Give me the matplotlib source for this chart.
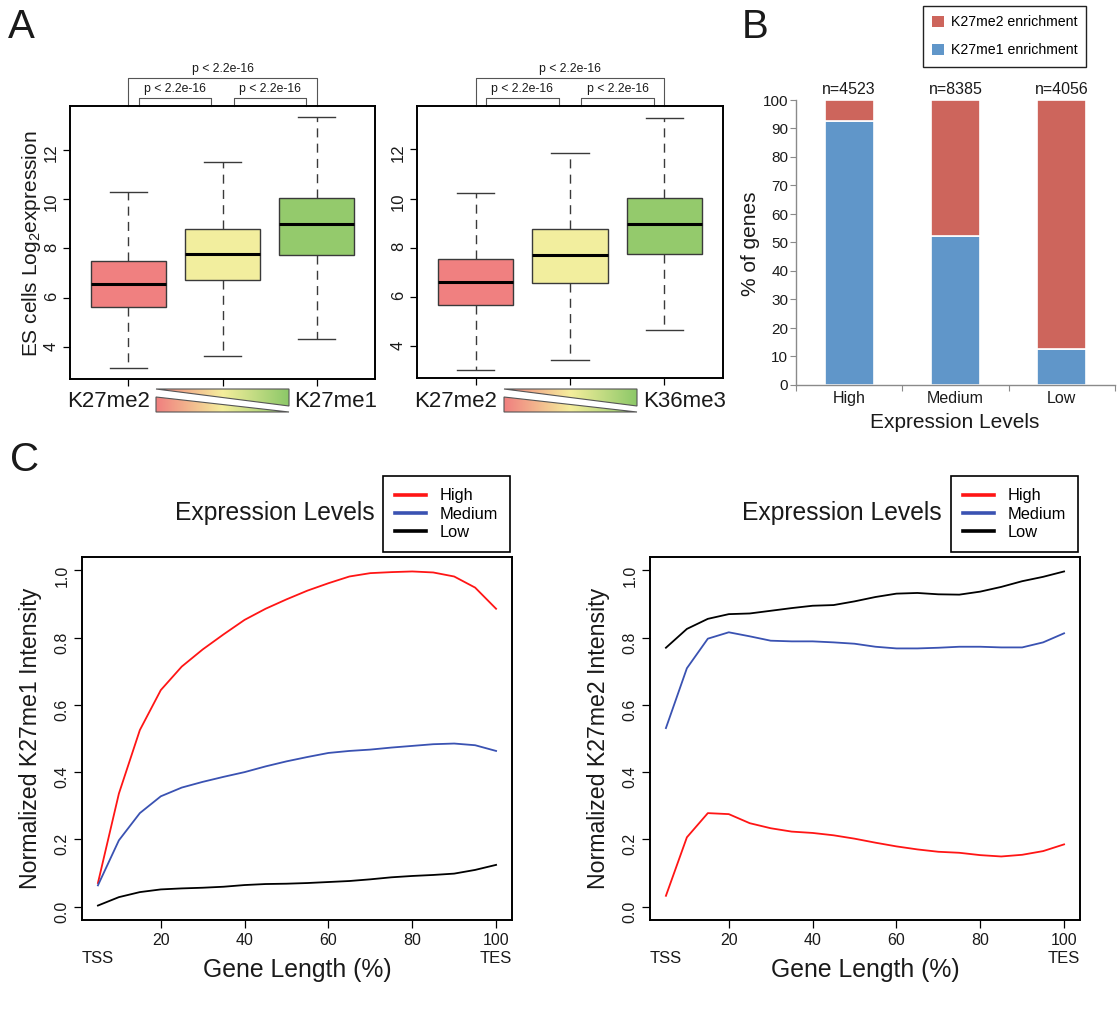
import numpy as np
import matplotlib
matplotlib.use('Agg')
import matplotlib.pyplot as plt
from matplotlib.patches import Polygon, Patch
from matplotlib.lines import Line2D
from matplotlib.colors import LinearSegmentedColormap
import matplotlib.transforms as mtransforms

plt.rcParams['font.family'] = ['Liberation Sans', 'DejaVu Sans']
plt.rcParams['mathtext.fontset'] = 'custom'
plt.rcParams['mathtext.rm'] = 'Liberation Sans'
plt.rcParams['mathtext.it'] = 'Liberation Sans:italic'

W, H = 1120, 1021

# ---------------- data ----------------
# Panel A (left): K27me2 -> K27me1
a1_q1 = [5.65, 6.73, 7.73]
a1_med = [6.55, 7.77, 8.98]
a1_q3 = [7.50, 8.78, 10.03]
a1_lo = [3.15, 3.63, 4.32]
a1_hi = [10.27, 11.48, 13.33]
a1_labels = ['K27me2', 'K27me1']

# Panel A (right): K27me2 -> K36me3
a2_q1 = [5.67, 6.58, 7.76]
a2_med = [6.60, 7.72, 8.96]
a2_q3 = [7.53, 8.78, 10.02]
a2_lo = [3.04, 3.44, 4.68]
a2_hi = [10.24, 11.85, 13.27]
a2_labels = ['K27me2', 'K36me3']

box_colors = ['#F08080', '#F2EE9E', '#94CA6C']
pval = 'p < 2.2e-16'
a_yticks = [4, 6, 8, 10, 12]

# Panel B
levels = ['High', 'Medium', 'Low']
n_genes = [4523, 8385, 4056]
pct_me1 = [92.5, 52.2, 12.6]
pct_me2 = [7.5, 47.8, 87.4]
b_yticks = [0, 10, 20, 30, 40, 50, 60, 70, 80, 90, 100]

# Panel C
gene_len = [5, 10, 15, 20, 25, 30, 35, 40, 45, 50, 55, 60, 65, 70, 75, 80, 85, 90, 95, 100]
me1_high = [0.070, 0.336, 0.525, 0.644, 0.714, 0.765, 0.810, 0.853, 0.886, 0.914,
            0.940, 0.962, 0.982, 0.992, 0.995, 0.997, 0.994, 0.982, 0.949, 0.886]
me1_med = [0.063, 0.197, 0.278, 0.328, 0.354, 0.371, 0.386, 0.400, 0.417, 0.432,
           0.445, 0.457, 0.463, 0.467, 0.473, 0.478, 0.483, 0.485, 0.480, 0.463]
me1_low = [0.003, 0.028, 0.043, 0.051, 0.054, 0.056, 0.059, 0.064, 0.067, 0.068,
           0.070, 0.073, 0.076, 0.081, 0.087, 0.091, 0.094, 0.098, 0.109, 0.124]
me2_high = [0.032, 0.206, 0.278, 0.275, 0.248, 0.233, 0.223, 0.219, 0.212, 0.202,
            0.190, 0.179, 0.170, 0.163, 0.160, 0.153, 0.149, 0.154, 0.165, 0.185]
me2_med = [0.531, 0.709, 0.797, 0.816, 0.804, 0.791, 0.789, 0.789, 0.786, 0.782,
           0.773, 0.768, 0.768, 0.770, 0.773, 0.773, 0.771, 0.771, 0.786, 0.813]
me2_low = [0.770, 0.826, 0.856, 0.870, 0.872, 0.880, 0.888, 0.895, 0.897, 0.908,
           0.921, 0.931, 0.933, 0.929, 0.928, 0.937, 0.951, 0.968, 0.981, 0.997]
c_xticks = [20, 40, 60, 80, 100]
c_yticks = [0.0, 0.2, 0.4, 0.6, 0.8, 1.0]
line_colors = ['#FF1515', '#3A52B2', '#000000']

# ---------------- figure ----------------
fig = plt.figure(figsize=(W / 100, H / 100), dpi=100)


def px_axes(x0, y0, x1, y1, **kw):
    return fig.add_axes([x0 / W, 1 - y1 / H, (x1 - x0) / W, (y1 - y0) / H], **kw)


def ftext(x, y, s, **kw):
    kw.setdefault('ha', 'center')
    kw.setdefault('va', 'center')
    fig.text(x / W, 1 - y / H, s, **kw)


TXT = '#1a1a1a'


def box_panel(ax, q1, med, q3, lo, hi):
    stats = [dict(q1=a, med=b, q3=c, whislo=d, whishi=e, fliers=[])
             for a, b, c, d, e in zip(q1, med, q3, lo, hi)]
    ec = '#3a3a3a'
    bp = ax.bxp(stats, positions=[1, 2, 3], widths=0.8, capwidths=0.4,
                patch_artist=True, showfliers=False,
                boxprops=dict(edgecolor=ec, linewidth=1.0),
                medianprops=dict(color='black', linewidth=2.2, solid_capstyle='butt'),
                whiskerprops=dict(color=ec, linewidth=1.0, linestyle=(0, (6.5, 4.5))),
                capprops=dict(color=ec, linewidth=1.0))
    for p, c in zip(bp['boxes'], box_colors):
        p.set_facecolor(c)
    ax.set_xlim(0.38, 3.62)
    ax.set_ylim(2.72, 13.76)
    ax.set_yticks(a_yticks)
    ax.set_xticks([1, 2, 3])
    ax.set_xticklabels([])
    ax.tick_params(axis='y', labelrotation=90, labelsize=12, length=5, pad=3,
                   labelcolor=TXT, width=0.9)
    ax.tick_params(axis='x', length=5, width=0.9)
    for s in ax.spines.values():
        s.set_linewidth(1.4)
        s.set_color('black')
    tr = mtransforms.blended_transform_factory(ax.transData, ax.transAxes)
    bc = '#555555'
    ax.plot([1, 1, 3, 3], [1.0, 1.1026, 1.1026, 1.0], transform=tr, clip_on=False, color=bc, lw=0.8)
    for (xa, xb) in [(1.11, 1.88), (2.12, 2.89)]:
        ax.plot([xa, xa, xb, xb], [1.0, 1.029, 1.029, 1.0], transform=tr, clip_on=False, color=bc, lw=0.8)
        ax.text((xa + xb) / 2, 1.062, pval, transform=tr, ha='center', va='center', fontsize=8.8, color=TXT)
    ax.text(2, 1.136, pval, transform=tr, ha='center', va='center', fontsize=8.8, color=TXT)


# ---- Panel A
axA1 = px_axes(70, 106, 375, 379)
box_panel(axA1, a1_q1, a1_med, a1_q3, a1_lo, a1_hi)
axA2 = px_axes(417, 106, 723, 378)
box_panel(axA2, a2_q1, a2_med, a2_q3, a2_lo, a2_hi)

ftext(32, 244, 'ES cells Log$_\\mathrm{2}$expression', rotation=90, fontsize=15, color=TXT)

# ---- Panel B
axB = px_axes(796, 100, 1115, 385)
xb = [0.5, 1.5, 2.5]
blue = '#6096C9'
red = '#CD655C'
axB.bar(xb, pct_me1, width=0.46, color=blue, edgecolor='white', linewidth=1.2)
axB.bar(xb, pct_me2, bottom=pct_me1, width=0.46, color=red, edgecolor='white', linewidth=1.2)
axB.set_xlim(0, 3)
axB.set_ylim(0, 100)
for s in ['top', 'right']:
    axB.spines[s].set_visible(False)
for s in ['left', 'bottom']:
    axB.spines[s].set_color('#8a8a8a')
    axB.spines[s].set_linewidth(1.0)
axB.set_yticks(b_yticks)
axB.tick_params(axis='y', length=4, color='#8a8a8a', labelsize=11, pad=1.5, labelcolor=TXT)
axB.set_xticks([0, 1, 2, 3])
axB.set_xticklabels([])
axB.tick_params(axis='x', which='major', length=4, color='#8a8a8a')
axB.set_xticks(xb, minor=True)
axB.set_xticklabels(levels, minor=True)
axB.tick_params(axis='x', which='minor', length=0, pad=4, labelsize=11.5, labelcolor=TXT)
for x, n in zip(xb, n_genes):
    axB.annotate(f'n={n}', (x, 100), xytext=(0, 7.5), textcoords='offset points',
                 ha='center', va='center', fontsize=11.5, color=TXT, annotation_clip=False)
ftext(750, 244, '% of genes', rotation=90, fontsize=15, color=TXT)
ftext(955, 422, 'Expression Levels', fontsize=15, color=TXT)
legB = fig.legend(handles=[Patch(facecolor=red, edgecolor='none'), Patch(facecolor=blue, edgecolor='none')],
                  labels=['K27me2 enrichment', 'K27me1 enrichment'],
                  loc='upper left', bbox_to_anchor=(923 / W, 1 - 6 / H), fontsize=10.2,
                  handlelength=0.85, handleheight=0.85, handletextpad=0.45,
                  labelspacing=1.0, borderpad=0.65, borderaxespad=0, fancybox=False, framealpha=1)
legB.get_frame().set_edgecolor('#222222')
legB.get_frame().set_linewidth(1.0)


# ---- Panel C
def line_panel(ax, series, ylabel_txt, ylab_x, title_x, leg_right):
    for ys, c in zip(series, line_colors):
        ax.plot(gene_len, ys, color=c, lw=1.3)
    ax.set_xlim(1.2, 103.8)
    ax.set_ylim(-0.04, 1.04)
    ax.set_xticks(c_xticks)
    ax.set_yticks(c_yticks)
    ax.set_yticklabels([f'{v:.1f}' for v in c_yticks])
    ax.tick_params(axis='y', labelrotation=90, labelsize=11.5, length=6, pad=3, labelcolor=TXT, width=0.9)
    ax.tick_params(axis='x', labelsize=11.5, length=6, pad=3, labelcolor=TXT, width=0.9)
    for s in ax.spines.values():
        s.set_linewidth(1.4)
        s.set_color('black')
    tr = mtransforms.blended_transform_factory(ax.transData, ax.transAxes)
    ax.text(5, -0.105, 'TSS', transform=tr, ha='center', va='center', fontsize=12, color=TXT)
    ax.text(100, -0.105, 'TES', transform=tr, ha='center', va='center', fontsize=12, color=TXT)
    ax.text(0.5, -0.138, 'Gene Length (%)', transform=ax.transAxes, ha='center', va='center',
            fontsize=17.8, color=TXT)
    ftext(ylab_x, 738, ylabel_txt, rotation=90, fontsize=16.7, color=TXT)
    ftext(title_x, 513, 'Expression Levels', fontsize=17.7, color=TXT)
    handles = [Line2D([], [], color=c, lw=2.6) for c in line_colors]
    leg = fig.legend(handles=handles, labels=levels, loc='upper right',
                     bbox_to_anchor=(leg_right / W, 1 - 476 / H), fontsize=11.8,
                     handlelength=1.9, handletextpad=0.8, labelspacing=0.2,
                     borderpad=0.75, borderaxespad=0, fancybox=False, framealpha=1)
    leg.get_frame().set_edgecolor('black')
    leg.get_frame().set_linewidth(1.2)


axC1 = px_axes(82, 557, 512, 920)
line_panel(axC1, [me1_high, me1_med, me1_low], 'Normalized K27me1 Intensity', 31, 275, 510)
axC2 = px_axes(650, 557, 1080, 920)
line_panel(axC2, [me2_high, me2_med, me2_low], 'Normalized K27me2 Intensity', 599, 842, 1078)

# ---- overlay: gradient triangles, labels, panel letters
ov = fig.add_axes([0, 0, 1, 1])
ov.patch.set_alpha(0)
ov.axis('off')
cmap = LinearSegmentedColormap.from_list('ryg', ['#F07F7F', '#F5EE9C', '#8CC868'])
grad = np.linspace(0, 1, 256).reshape(1, -1)


def triangles(x0, x1):
    tris = [[(x0, 389), (x1, 389), (x1, 406)], [(x0, 397), (x0, 412), (x1, 412)]]
    for t in tris:
        clip = Polygon(t, closed=True, transform=ov.transData, facecolor='none')
        im = ov.imshow(grad, cmap=cmap, extent=[x0, x1, 412, 389], aspect='auto', interpolation='bilinear')
        im.set_clip_path(clip)
        ov.add_patch(Polygon(t, closed=True, facecolor='none', edgecolor='#555555', lw=0.8))


triangles(156, 289)
triangles(504, 637)
ov.set_xlim(0, W)
ov.set_ylim(H, 0)

ftext(109, 401, a1_labels[0], fontsize=16, color=TXT)
ftext(336, 401, a1_labels[1], fontsize=16, color=TXT)
ftext(456, 401, a2_labels[0], fontsize=16, color=TXT)
ftext(685, 401, a2_labels[1], fontsize=16, color=TXT)

ftext(21, 27, 'A', fontsize=29, color=TXT)
ftext(755, 27, 'B', fontsize=29, color=TXT)
ftext(25, 460, 'C', fontsize=29, color=TXT)

fig.savefig('out.png', dpi=100)
